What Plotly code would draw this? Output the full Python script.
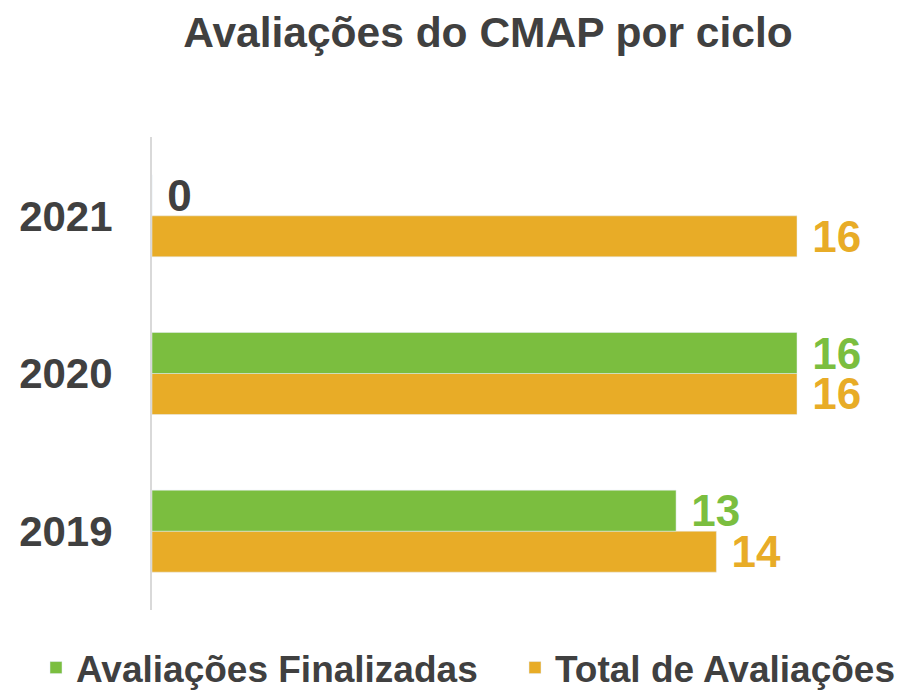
import plotly.graph_objects as go

categories = ["2019", "2020", "2021"]
finalizadas = [13, 16, 0]
total = [14, 16, 16]
series_names = ["Avaliações Finalizadas", "Total de Avaliações"]
title_text = "Avaliações do CMAP por ciclo"

GREEN = "#7BBE3F"
ORANGE = "#E8AC27"
DARK = "#404040"
FONT = "Liberation Sans, Arial, sans-serif"

fig = go.Figure()
fig.add_trace(go.Bar(
    y=categories, x=total, orientation="h", name=series_names[1],
    marker=dict(color=ORANGE), texttemplate=" %{x}", textposition="outside",
    textfont=dict(color=ORANGE, size=44, family=FONT, weight="bold"),
    constraintext="none", cliponaxis=False, legend="legend2",
))
fig.add_trace(go.Bar(
    y=categories, x=finalizadas, orientation="h", name=series_names[0],
    marker=dict(color=GREEN), texttemplate=" %{x}", textposition="outside",
    textfont=dict(color=[GREEN if v > 0 else DARK for v in finalizadas],
                  size=44, family=FONT, weight="bold"),
    constraintext="none", cliponaxis=False, legend="legend",
))

legend_font = dict(size=37, family=FONT, color=DARK, weight="bold")

fig.update_layout(
    width=907, height=691,
    paper_bgcolor="white", plot_bgcolor="white",
    margin=dict(l=152, r=27, t=137, b=81, autoexpand=False),
    barmode="group", bargap=0.48, bargroupgap=0,
    title=dict(text=title_text, x=488/907, xanchor="center", y=1-32/691, yanchor="middle",
               automargin=False,
               font=dict(size=42.5, family=FONT, color=DARK, weight="bold")),
    xaxis=dict(range=[0, 16*728/645], showgrid=False, zeroline=False, showticklabels=False,
               showline=False, fixedrange=True, automargin=False),
    yaxis=dict(type="category", showgrid=False, showline=True, linecolor="#d9d9d9", linewidth=2,
               ticks="", ticklabelstandoff=29, automargin=False, fixedrange=True,
               tickfont=dict(size=42, family=FONT, color=DARK, weight="bold")),
    legend=dict(orientation="h", xref="container", yref="container", x=36/907, xanchor="left",
                y=1-668/691, yanchor="middle", font=legend_font),
    legend2=dict(orientation="h", xref="container", yref="container", x=515/907, xanchor="left",
                 y=1-668/691, yanchor="middle", font=legend_font),
    showlegend=True,
)

fig.write_html("out.html", config={"displayModeBar": False},
               post_script="document.body.style.margin='0';")
